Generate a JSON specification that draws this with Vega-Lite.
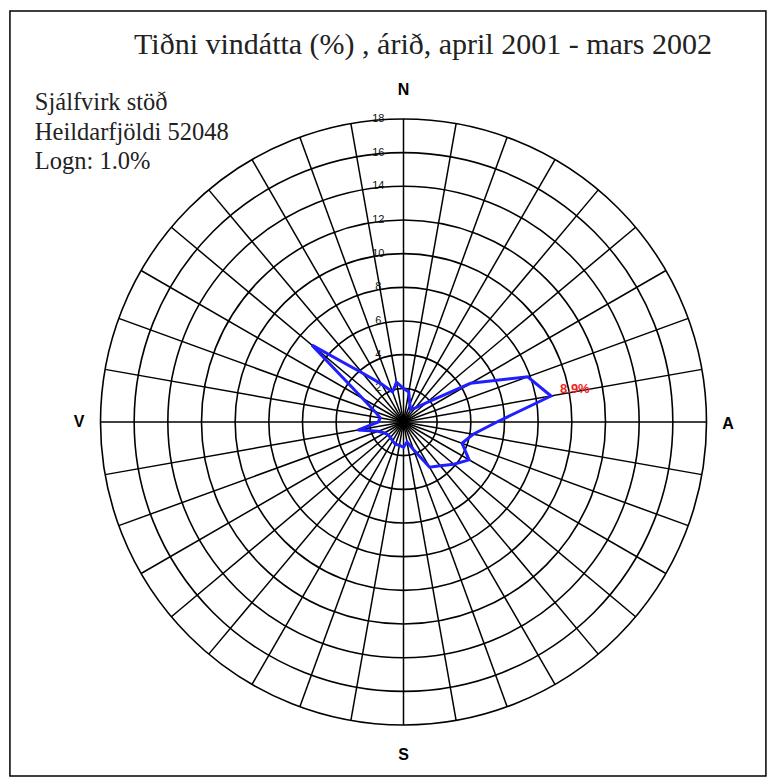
{
  "$schema": "https://vega.github.io/schema/vega-lite/v6.json",
  "width": 606,
  "height": 606,
  "autosize": {"type": "none"},
  "padding": {"left": 100.5, "top": 119, "right": 67.5, "bottom": 56},
  "background": "white",
  "config": {"view": {"stroke": null}},
  "datasets": {
    "wind": [
      {"dir": 0, "pct": 2.0}, {"dir": 10, "pct": 1.8}, {"dir": 20, "pct": 1.1}, {"dir": 30, "pct": 0.85},
      {"dir": 40, "pct": 1.1}, {"dir": 50, "pct": 1.8}, {"dir": 60, "pct": 4.6}, {"dir": 70, "pct": 7.85},
      {"dir": 80, "pct": 8.9}, {"dir": 90, "pct": 5.55}, {"dir": 100, "pct": 4.2}, {"dir": 110, "pct": 3.7},
      {"dir": 120, "pct": 4.5}, {"dir": 130, "pct": 3.9}, {"dir": 140, "pct": 3.4}, {"dir": 150, "pct": 3.1},
      {"dir": 160, "pct": 1.75}, {"dir": 170, "pct": 1.2}, {"dir": 180, "pct": 1.5}, {"dir": 190, "pct": 1.4},
      {"dir": 200, "pct": 1.4}, {"dir": 210, "pct": 1.3}, {"dir": 220, "pct": 1.2}, {"dir": 230, "pct": 1.2},
      {"dir": 240, "pct": 1.3}, {"dir": 250, "pct": 1.6}, {"dir": 260, "pct": 2.75}, {"dir": 270, "pct": 1.5},
      {"dir": 280, "pct": 1.4}, {"dir": 290, "pct": 1.8}, {"dir": 300, "pct": 2.8}, {"dir": 310, "pct": 7.1},
      {"dir": 320, "pct": 3.8}, {"dir": 330, "pct": 2.6}, {"dir": 340, "pct": 1.9}, {"dir": 350, "pct": 2.4}
    ],
    "spokes": [
      {"dir": 0}, {"dir": 10}, {"dir": 20}, {"dir": 30}, {"dir": 40}, {"dir": 50}, {"dir": 60}, {"dir": 70},
      {"dir": 80}, {"dir": 90}, {"dir": 100}, {"dir": 110}, {"dir": 120}, {"dir": 130}, {"dir": 140}, {"dir": 150},
      {"dir": 160}, {"dir": 170}, {"dir": 180}, {"dir": 190}, {"dir": 200}, {"dir": 210}, {"dir": 220}, {"dir": 230},
      {"dir": 240}, {"dir": 250}, {"dir": 260}, {"dir": 270}, {"dir": 280}, {"dir": 290}, {"dir": 300}, {"dir": 310},
      {"dir": 320}, {"dir": 330}, {"dir": 340}, {"dir": 350}
    ],
    "rings": [
      {"r": 2}, {"r": 4}, {"r": 6}, {"r": 8}, {"r": 10}, {"r": 12}, {"r": 14}, {"r": 16}, {"r": 18}
    ]
  },
  "layer": [
    {
      "data": {"values": [{}]},
      "mark": {"type": "rect", "fill": "white", "stroke": "black", "strokeWidth": 1.5},
      "encoding": {
        "x": {"datum": -23.38, "type": "quantitative", "scale": {"domain": [-18, 18], "nice": false, "zero": false}, "axis": null},
        "x2": {"datum": 21.53},
        "y": {"datum": 24.42, "type": "quantitative", "scale": {"domain": [-18, 18], "nice": false, "zero": false}, "axis": null},
        "y2": {"datum": -21.03}
      }
    },
    {
      "data": {"name": "rings"},
      "mark": {"type": "point", "shape": "circle", "filled": false, "stroke": "black", "strokeWidth": 1.6, "opacity": 1},
      "encoding": {
        "x": {"datum": 0, "type": "quantitative"},
        "y": {"datum": 0, "type": "quantitative"},
        "size": {"field": "r", "type": "quantitative", "scale": {"type": "pow", "exponent": 2, "domain": [0, 18], "range": [0, 367236], "zero": true}, "legend": null}
      }
    },
    {
      "data": {"name": "spokes"},
      "transform": [
        {"calculate": "18 * sin(datum.dir * PI / 180)", "as": "sx"},
        {"calculate": "18 * cos(datum.dir * PI / 180)", "as": "sy"}
      ],
      "mark": {"type": "rule", "color": "black", "strokeWidth": 1.5},
      "encoding": {
        "x": {"field": "sx", "type": "quantitative"},
        "y": {"field": "sy", "type": "quantitative"},
        "x2": {"datum": 0},
        "y2": {"datum": 0}
      }
    },
    {
      "data": {"name": "rings"},
      "mark": {"type": "text", "font": "Liberation Sans", "fontSize": 11, "color": "#111111", "baseline": "middle", "align": "center"},
      "encoding": {
        "x": {"datum": -1.5, "type": "quantitative"},
        "y": {"field": "r", "type": "quantitative"},
        "text": {"field": "r", "type": "quantitative"}
      }
    },
    {
      "data": {"name": "wind"},
      "transform": [
        {"calculate": "datum.pct * sin(datum.dir * PI / 180)", "as": "px"},
        {"calculate": "datum.pct * cos(datum.dir * PI / 180)", "as": "py"}
      ],
      "mark": {"type": "line", "interpolate": "linear-closed", "color": "#1f1fff", "strokeWidth": 3},
      "encoding": {
        "x": {"field": "px", "type": "quantitative"},
        "y": {"field": "py", "type": "quantitative"},
        "order": {"field": "dir", "type": "quantitative"}
      }
    },
    {
      "data": {"name": "wind"},
      "transform": [
        {"filter": "datum.pct >= 8.9"},
        {"calculate": "datum.pct * sin(datum.dir * PI / 180)", "as": "px"},
        {"calculate": "datum.pct * cos(datum.dir * PI / 180)", "as": "py"},
        {"calculate": "format(datum.pct, '.1f') + '%'", "as": "lbl"}
      ],
      "mark": {"type": "text", "font": "Liberation Sans", "fontWeight": "bold", "fontSize": 13, "color": "#ee2222", "align": "left", "baseline": "middle", "dx": 9, "dy": -7},
      "encoding": {
        "x": {"field": "px", "type": "quantitative"},
        "y": {"field": "py", "type": "quantitative"},
        "text": {"field": "lbl", "type": "nominal"}
      }
    },
    {
      "data": {"values": [{}]},
      "mark": {"type": "text", "text": "N", "font": "Liberation Sans", "fontWeight": "bold", "fontSize": 16, "color": "black", "align": "center", "baseline": "middle"},
      "encoding": {"x": {"datum": 0, "type": "quantitative"}, "y": {"datum": 19.73, "type": "quantitative"}}
    },
    {
      "data": {"values": [{}]},
      "mark": {"type": "text", "text": "S", "font": "Liberation Sans", "fontWeight": "bold", "fontSize": 16, "color": "black", "align": "center", "baseline": "middle"},
      "encoding": {"x": {"datum": 0, "type": "quantitative"}, "y": {"datum": -19.79, "type": "quantitative"}}
    },
    {
      "data": {"values": [{}]},
      "mark": {"type": "text", "text": "V", "font": "Liberation Sans", "fontWeight": "bold", "fontSize": 16, "color": "black", "align": "center", "baseline": "middle"},
      "encoding": {"x": {"datum": -19.28, "type": "quantitative"}, "y": {"datum": 0, "type": "quantitative"}}
    },
    {
      "data": {"values": [{}]},
      "mark": {"type": "text", "text": "A", "font": "Liberation Sans", "fontWeight": "bold", "fontSize": 16, "color": "black", "align": "center", "baseline": "middle"},
      "encoding": {"x": {"datum": 19.28, "type": "quantitative"}, "y": {"datum": -0.1, "type": "quantitative"}}
    },
    {
      "data": {"values": [{}]},
      "mark": {"type": "text", "text": "Tiðni vindátta (%) , árið, april 2001 - mars 2002", "font": "Liberation Serif", "fontSize": 30, "color": "#222222", "align": "center", "baseline": "middle"},
      "encoding": {"x": {"datum": 1.16, "type": "quantitative"}, "y": {"datum": 22.4, "type": "quantitative"}}
    },
    {
      "data": {"values": [{}]},
      "mark": {"type": "text", "text": ["Sjálfvirk stöð", "Heildarfjöldi 52048", "Logn: 1.0%"], "lineHeight": 29.5, "font": "Liberation Serif", "fontSize": 24.5, "color": "#222222", "align": "left", "baseline": "top"},
      "encoding": {"x": {"datum": -21.9, "type": "quantitative"}, "y": {"datum": 19.65, "type": "quantitative"}}
    }
  ]
}
